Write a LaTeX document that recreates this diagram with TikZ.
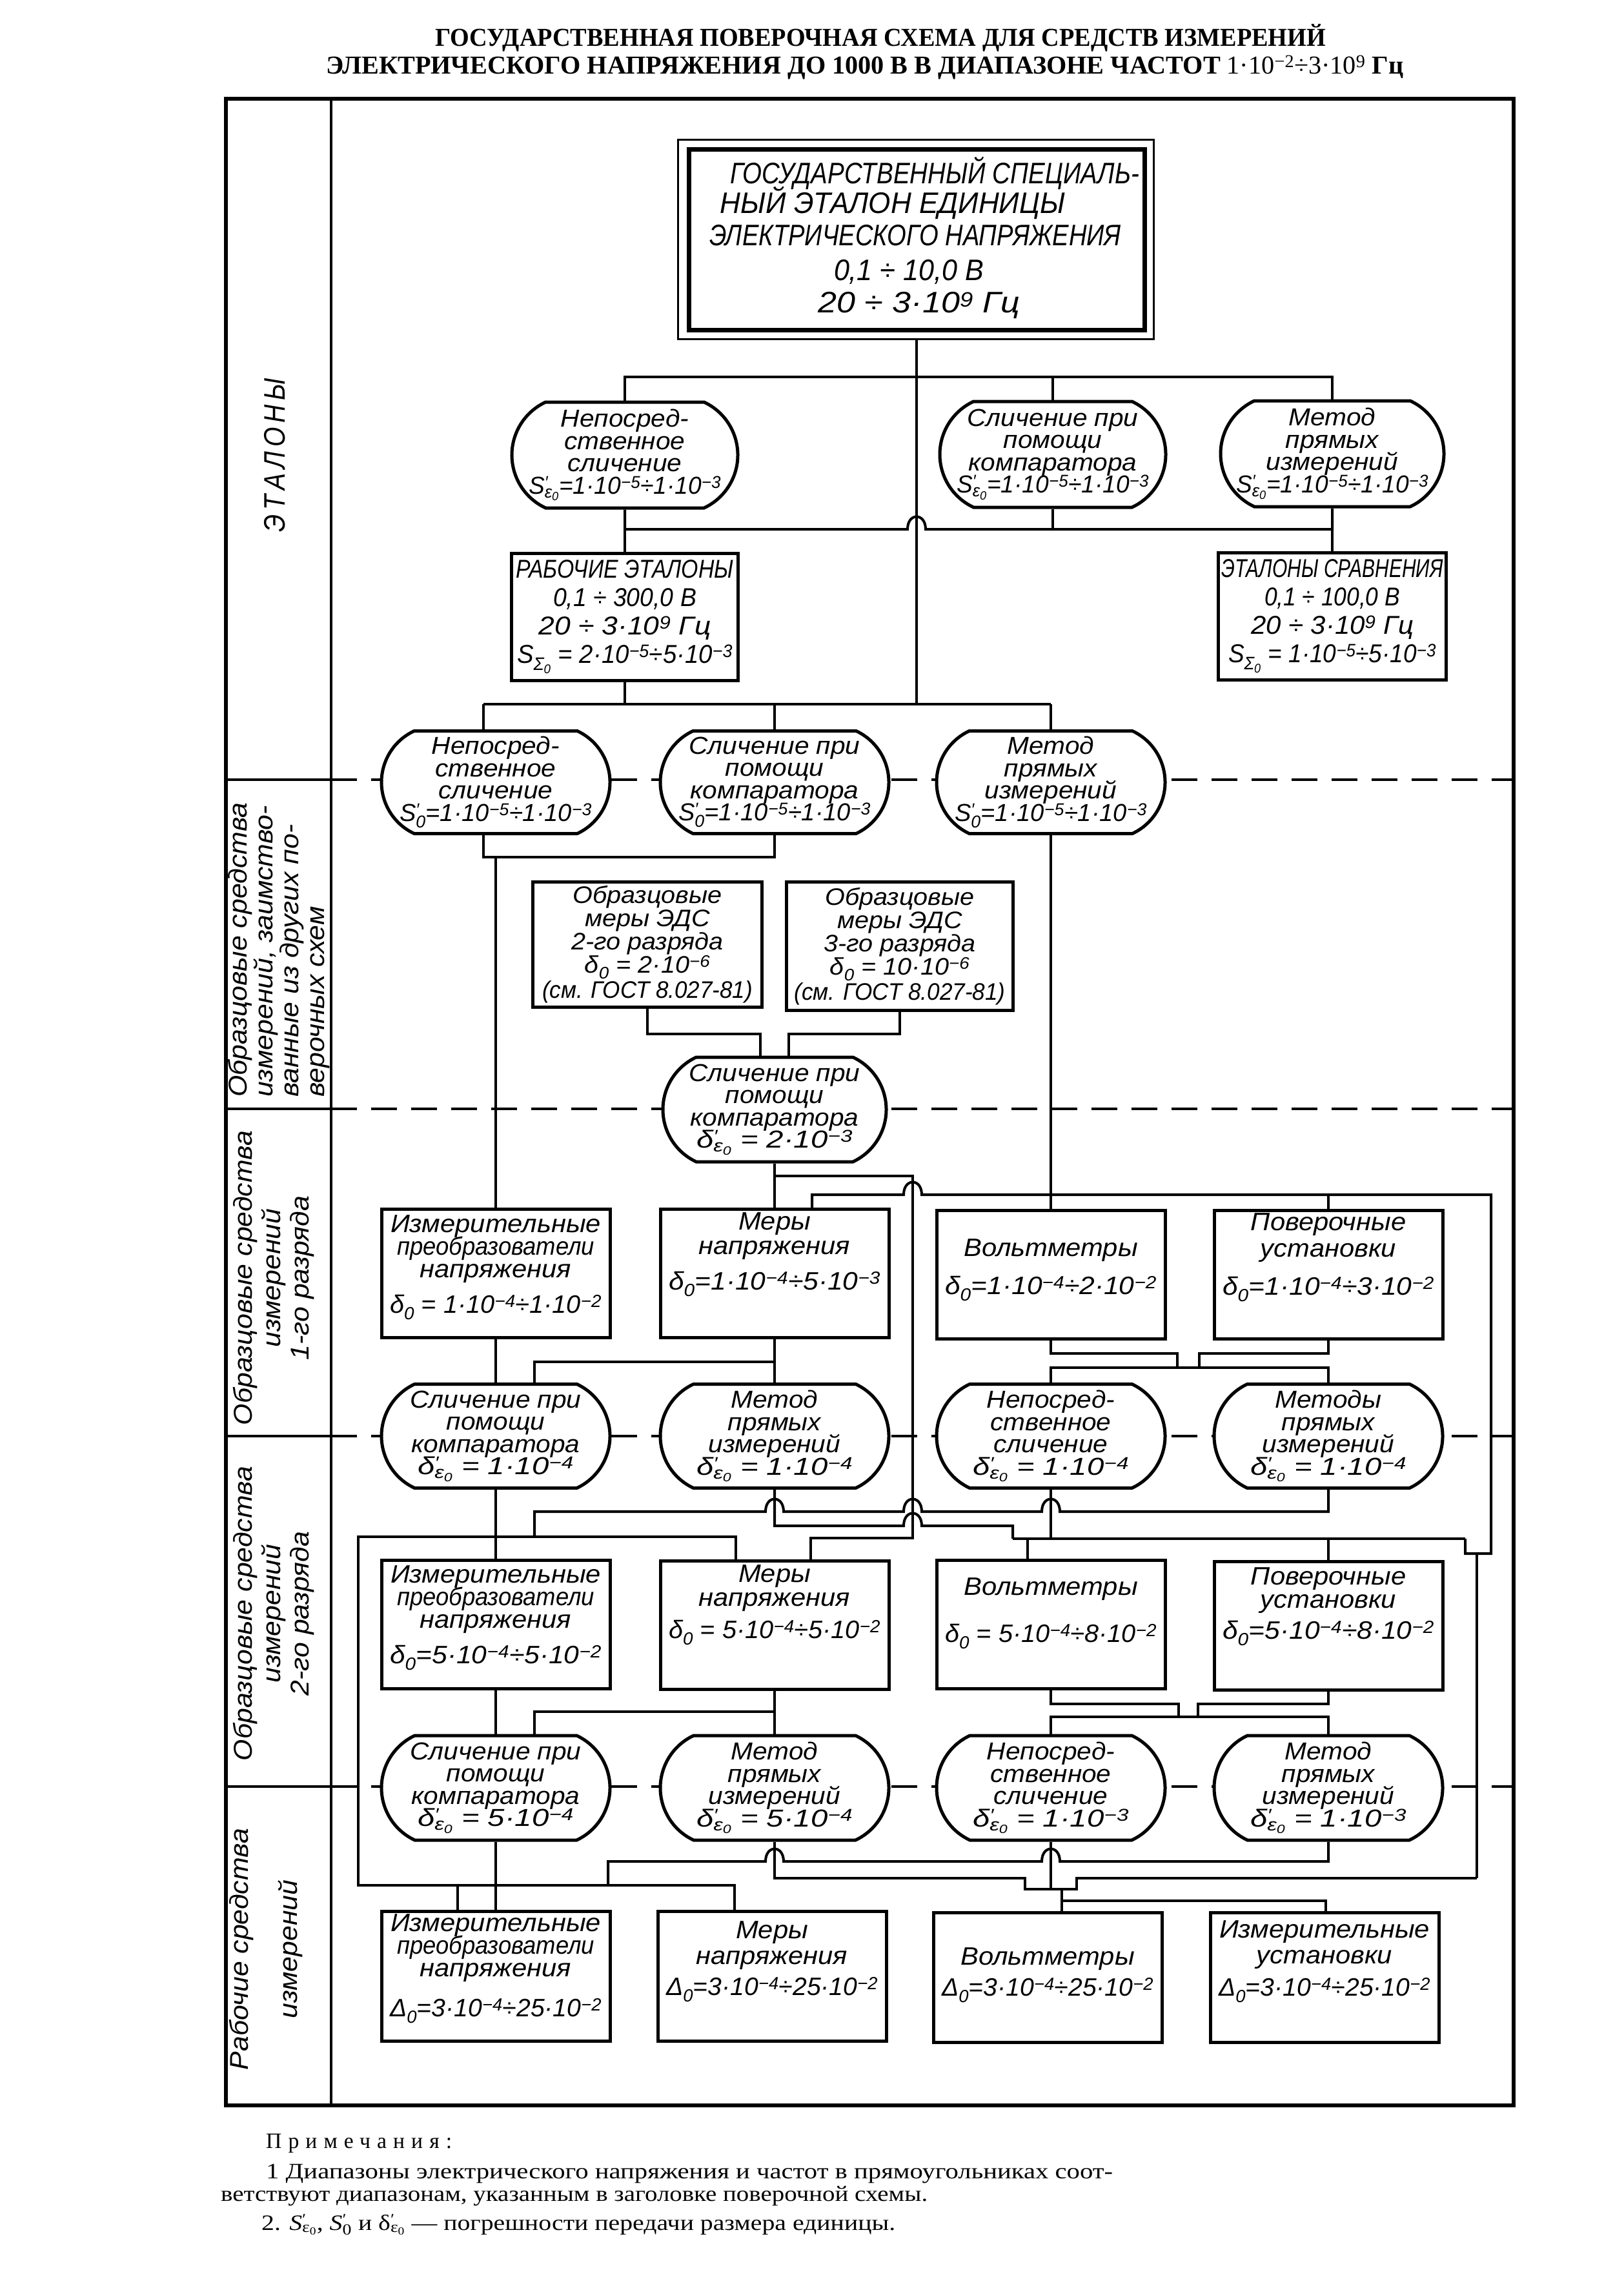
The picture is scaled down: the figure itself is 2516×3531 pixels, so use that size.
\documentclass[tikz,border=0pt]{standalone}
\usepackage{fontspec}
\usepackage{graphicx}
\setmainfont{Liberation Sans}
\newfontfamily\gost{Liberation Sans}[FakeStretch=1.07]
\newfontfamily\gostcap{Liberation Sans}[FakeStretch=0.85]
\newfontfamily\titlef{Liberation Serif}[FakeStretch=0.85]
\newfontfamily\notef{Liberation Serif}
\usetikzlibrary{shapes.misc,calc}
\lineskiplimit=-100pt
\newsavebox\fitbox
\newcommand\fitw[2]{\sbox\fitbox{#2}\pgfmathsetmacro\fitfac{#1/\the\wd\fitbox}\scalebox{\fitfac}[1]{\usebox\fitbox}}
\newcommand\mysp[1]{\textsuperscript{#1}}
\newcommand\mysb[1]{\textsubscript{#1}}
\newcommand\tp[1]{10\mysp{−#1}}
\newcommand\pr[2]{#1\rlap{\mysp{′}}\mysb{#2}}
\newcommand\ez{ε\mysb{0}}
\newcommand\fml[1]{\fitw{328}{#1}}
\newcommand\dfml[1]{\fitw{242}{#1}}
\newcommand\sfml[1]{\fitw{298}{#1}}
\newcommand\preo{\fitw{306}{преобразователи}}
\begin{document}
\begin{tikzpicture}[x=1pt,y=-1pt,
  wire/.style={line width=4},
  frame/.style={line width=6},
  dashline/.style={line width=4.5, dash pattern=on 40 off 22},
  barrel/.style={rounded rectangle, rounded rectangle arc length=130, draw, line width=5, fill=white, minimum width=354, minimum height=162, inner sep=0},
  box/.style={rectangle, draw, line width=5, fill=white, minimum width=354, minimum height=199, inner sep=0},
  btxt/.style={inner sep=0, align=center, font=\gost\itshape\fontsize{38}{34.5}\selectfont},
  xtxt/.style={inner sep=0, align=center, font=\gost\itshape\fontsize{39}{35}\selectfont, anchor=north},
  gtxt/.style={inner sep=0, align=center, font=\gost\itshape\fontsize{37}{36}\selectfont},
  captxt/.style={inner sep=0, align=center, font=\gostcap\itshape\fontsize{46}{46}\selectfont},
  captxtb/.style={inner sep=0, align=center, font=\gostcap\itshape\fontsize{40}{44}\selectfont},
  lbl/.style={inner sep=0, font=\gost\itshape\fontsize{40}{44}\selectfont},
  notes/.style={inner sep=0, anchor=base west, font=\notef\fontsize{34}{40}\selectfont},
  hop/.style 2 args={insert path={-- ({#1-14},{#2}) .. controls ({#1-14},{#2-26}) and ({#1+14},{#2-26}) .. ({#1+14},{#2})}}
]
\fill[white] (0,0) rectangle (2516,3531);
\useasboundingbox (0,0) rectangle (2516,3531);

% title
\node[inner sep=0, anchor=base, font=\titlef\bfseries\fontsize{40}{40}\selectfont] (TT1) at (1364,71) {\fitw{1380}{ГОСУДАРСТВЕННАЯ ПОВЕРОЧНАЯ СХЕМА ДЛЯ СРЕДСТВ ИЗМЕРЕНИЙ}};
\node[inner sep=0, anchor=base, font=\titlef\bfseries\fontsize{40}{40}\selectfont] (TT2) at (1340,114) {\fitw{1669}{ЭЛЕКТРИЧЕСКОГО НАПРЯЖЕНИЯ ДО 1000 В В ДИАПАЗОНЕ ЧАСТОТ {\mdseries 1·10\mysp{−2}÷3·10\mysp{9}} Гц}};

% frame
\draw[frame] (350,153) rectangle (2345,3262);
\draw[line width=4] (513,153) -- (513,3262);
\foreach \yy in {1208,1718,2225,2768}{
  \draw[line width=4] (350,\yy) -- (513,\yy);
  \draw[dashline] (513,\yy) -- (2345,\yy);
}

% labels
\node[lbl, rotate=90, font=\gostcap\itshape\fontsize{46}{46}\selectfont] (LB1) at (426,705) {Э\hspace{7pt}Т\hspace{7pt}А\hspace{7pt}Л\hspace{7pt}О\hspace{7pt}Н\hspace{7pt}Ы};
\node[lbl, rotate=90, align=left, anchor=north west, font=\gost\itshape\fontsize{40}{40}\selectfont] (LB2) at (353,1700) {Образцовые средства\\измерений, заимство-\\ванные из других по-\\верочных схем};
\node[lbl, rotate=90, align=center] (LB3) at (424,1980) {Образцовые средства\\измерений\\1-го разряда};
\node[lbl, rotate=90, align=center] (LB4) at (424,2500) {Образцовые средства\\измерений\\2-го разряда};
\node[lbl, rotate=90, align=center, font=\gost\itshape\fontsize{40}{76}\selectfont] (LB5) at (412,3020) {Рабочие средства\\измерений};

% top box
\node[draw, line width=7, minimum width=706, minimum height=280, inner sep=0, fill=white] (TOP) at (1420,371) {};
\draw[line width=3] ($(TOP.north west)+(-13,-11)$) rectangle ($(TOP.south east)+(11,11)$);
\node[captxt] (T1) at (1448,268) {\fitw{634}{ГОСУДАРСТВЕННЫЙ СПЕЦИАЛЬ-}};
\node[captxt] (T2) at (1383,314) {\fitw{535}{НЫЙ ЭТАЛОН ЕДИНИЦЫ}};
\node[captxt] (T3) at (1418,365) {\fitw{638}{ЭЛЕКТРИЧЕСКОГО НАПРЯЖЕНИЯ}};
\node[captxt] (T4) at (1408,421) {\fitw{232}{0,1 ÷ 10,0 В}};
\node[captxt] (T5) at (1424,473) {\fitw{313}{20 ÷ 3·10\mysp{9} Гц}};

% row E
\node[barrel, minimum width=350, minimum height=164] (E1) at (968,705) {};
\node[btxt] (E1t) at (E1) {Непосред-\\ственное\\сличение\\\sfml{\pr{S}{\ez}=1·\tp{5}÷1·\tp{3}}};
\node[barrel, minimum width=350, minimum height=164] (E2) at (1631,704) {};
\node[btxt] (E2t) at (E2) {Сличение при\\помощи\\компаратора\\\sfml{\pr{S}{\ez}=1·\tp{5}÷1·\tp{3}}};
\node[barrel, minimum width=346, minimum height=164] (E3) at (2064,703) {};
\node[btxt] (E3t) at (E3) {Метод\\прямых\\измерений\\\sfml{\pr{S}{\ez}=1·\tp{5}÷1·\tp{3}}};

% РЭ / ЭС
\node[box, minimum width=351, minimum height=197] (RE) at (968,956) {};
\node[captxtb] (REt) at (RE) {\fitw{337}{РАБОЧИЕ ЭТАЛОНЫ}\\\fitw{222}{0,1 ÷ 300,0 В}\\\fitw{267}{20 ÷ 3·10\mysp{9} Гц}\\\fitw{334}{S\mysb{Σ\mysb{0}} = 2·\tp{5}÷5·\tp{3}}};
\node[box, minimum width=353, minimum height=197] (ES) at (2064,955) {};
\node[captxtb] (ESt) at (ES) {\fitw{343}{ЭТАЛОНЫ СРАВНЕНИЯ}\\\fitw{210}{0,1 ÷ 100,0 В}\\\fitw{252}{20 ÷ 3·10\mysp{9} Гц}\\\fitw{322}{S\mysb{Σ\mysb{0}} = 1·\tp{5}÷5·\tp{3}}};

% row F
\node[barrel, minimum height=159] (F1) at (768,1212) {};
\node[btxt] (F1t) at (F1) {Непосред-\\ственное\\сличение\\\sfml{\pr{S}{0}=1·\tp{5}÷1·\tp{3}}};
\node[barrel, minimum height=159] (F2) at (1200,1212) {};
\node[btxt] (F2t) at (F2) {Сличение при\\помощи\\компаратора\\\sfml{\pr{S}{0}=1·\tp{5}÷1·\tp{3}}};
\node[barrel, minimum height=159] (F3) at (1628,1212) {};
\node[btxt] (F3t) at (F3) {Метод\\прямых\\измерений\\\sfml{\pr{S}{0}=1·\tp{5}÷1·\tp{3}}};

% row G
\node[box, minimum width=355, minimum height=194] (G1) at (1003,1463) {};
\node[gtxt] (G1t) at (G1) {Образцовые\\меры ЭДС\\2-го разряда\\δ\mysb{0} = 2·\tp{6}\\[3pt]\fitw{326}{(см. ГОСТ 8.027-81)}};
\node[box, minimum width=351, minimum height=199] (G2) at (1394,1466) {};
\node[gtxt] (G2t) at (G2) {Образцовые\\меры ЭДС\\3-го разряда\\δ\mysb{0} = 10·\tp{6}\\[3pt]\fitw{327}{(см. ГОСТ 8.027-81)}};

% H
\node[barrel, minimum width=346] (H) at (1200,1719) {};
\node[btxt] (Ht) at (H) {Сличение при\\помощи\\компаратора\\\dfml{\pr{δ}{\ez} = 2·\tp{3}}};

% row B
\node[box] (B1) at (768,1973) {};
\node[xtxt] (B1t) at ($(B1.north)+(0,11)$) {Измерительные\\\preo\\напряжения\\[20pt]\fml{δ\mysb{0} = 1·\tp{4}÷1·\tp{2}}};
\node[box] (B2) at (1200,1973) {};
\node[xtxt] (B2t) at ($(B2.north)+(0,7)$) {Меры\\[3pt]напряжения\\[20pt]\fml{δ\mysb{0}=1·\tp{4}÷5·\tp{3}}};
\node[box] (B3) at (1628,1975) {};
\node[xtxt] (B3t) at ($(B3.north)+(0,46)$) {Вольтметры\\[24pt]\fml{δ\mysb{0}=1·\tp{4}÷2·\tp{2}}};
\node[box] (B4) at (2058,1975) {};
\node[xtxt] (B4t) at ($(B4.north)+(0,6)$) {Поверочные\\[6pt]установки\\[24pt]\fml{δ\mysb{0}=1·\tp{4}÷3·\tp{2}}};

% row K
\node[barrel, minimum height=161] (K1) at (768,2225) {};
\node[btxt] (K1t) at (K1) {Сличение при\\помощи\\компаратора\\\dfml{\pr{δ}{\ez} = 1·\tp{4}}};
\node[barrel, minimum height=161] (K2) at (1200,2225) {};
\node[btxt] (K2t) at (K2) {Метод\\прямых\\измерений\\\dfml{\pr{δ}{\ez} = 1·\tp{4}}};
\node[barrel, minimum height=161] (K3) at (1628,2225) {};
\node[btxt] (K3t) at (K3) {Непосред-\\ственное\\сличение\\\dfml{\pr{δ}{\ez} = 1·\tp{4}}};
\node[barrel, minimum height=161] (K4) at (2058,2225) {};
\node[btxt] (K4t) at (K4) {Методы\\прямых\\измерений\\\dfml{\pr{δ}{\ez} = 1·\tp{4}}};

% row C
\node[box] (C1) at (768,2517) {};
\node[xtxt] (C1t) at ($(C1.north)+(0,10)$) {Измерительные\\\preo\\напряжения\\[20pt]\fml{δ\mysb{0}=5·\tp{4}÷5·\tp{2}}};
\node[box] (C2) at (1200,2518) {};
\node[xtxt] (C2t) at ($(C2.north)+(0,8)$) {Меры\\[2pt]напряжения\\[15pt]\fml{δ\mysb{0} = 5·\tp{4}÷5·\tp{2}}};
\node[box] (C3) at (1628,2517) {};
\node[xtxt] (C3t) at ($(C3.north)+(0,29)$) {Вольтметры\\[38pt]\fml{δ\mysb{0} = 5·\tp{4}÷8·\tp{2}}};
\node[box] (C4) at (2058,2519) {};
\node[xtxt] (C4t) at ($(C4.north)+(0,11)$) {Поверочные\\[1pt]установки\\[13pt]\fml{δ\mysb{0}=5·\tp{4}÷8·\tp{2}}};

% row L
\node[barrel] (L1) at (768,2770) {};
\node[btxt] (L1t) at (L1) {Сличение при\\помощи\\компаратора\\\dfml{\pr{δ}{\ez} = 5·\tp{4}}};
\node[barrel] (L2) at (1200,2770) {};
\node[btxt] (L2t) at (L2) {Метод\\прямых\\измерений\\\dfml{\pr{δ}{\ez} = 5·\tp{4}}};
\node[barrel] (L3) at (1628,2770) {};
\node[btxt] (L3t) at (L3) {Непосред-\\ственное\\сличение\\\dfml{\pr{δ}{\ez} = 1·\tp{3}}};
\node[barrel] (L4) at (2058,2770) {};
\node[btxt] (L4t) at (L4) {Метод\\прямых\\измерений\\\dfml{\pr{δ}{\ez} = 1·\tp{3}}};

% row D
\node[box, minimum height=201] (D1) at (768,3062) {};
\node[xtxt] (D1t) at ($(D1.north)+(0,6)$) {Измерительные\\\preo\\напряжения\\[27pt]\fml{Δ\mysb{0}=3·\tp{4}÷25·\tp{2}}};
\node[box, minimum height=201] (D2) at (1196,3062) {};
\node[xtxt] (D2t) at ($(D2.north)+(0,17)$) {Меры\\[5pt]напряжения\\[13pt]\fml{Δ\mysb{0}=3·\tp{4}÷25·\tp{2}}};
\node[box, minimum height=201] (D3) at (1623,3064) {};
\node[xtxt] (D3t) at ($(D3.north)+(0,56)$) {Вольтметры\\[13pt]\fml{Δ\mysb{0}=3·\tp{4}÷25·\tp{2}}};
\node[box, minimum height=201] (D4) at (2052,3064) {};
\node[xtxt] (D4t) at ($(D4.north)+(0,14)$) {Измерительные\\[5pt]установки\\[15pt]\fml{Δ\mysb{0}=3·\tp{4}÷25·\tp{2}}};

% ---------- wiring ----------
\draw[wire] ($(TOP.south)+(0,11)$) -- (1420,1091);
\draw[wire] (E1.north) -- (968,584) -- (2064,584) -- (E3.north);
\draw[wire] (1631,584) -- (E2.north);
\draw[wire] (E1.south) -- (968,820) [hop={1420}{820}] -- (2064,820) -- (E3.south);
\draw[wire] (E2.south) -- (1631,820);
\draw[wire] (968,820) -- (RE.north);
\draw[wire] (2064,820) -- (ES.north);
\draw[wire] (RE.south) -- (968,1091);
\draw[wire] (749,1091) -- (1628,1091);
\draw[wire] (749,1091) -- (F1.north -| 749,0);
\draw[wire] (1200,1091) -- (F2.north);
\draw[wire] (1628,1091) -- (F3.north);
\draw[wire] (F1.south -| 749,0) -- (749,1328) -- (1200,1328) -- (F2.south);
\draw[wire] (768,1328) -- (B1.north);
\draw[wire] (F3.south) -- (B3.north);
\draw[wire] (G1.south) -- (1003,1602) -- (1178,1602) -- (H.north -| 1178,0);
\draw[wire] (G2.south) -- (1394,1602) -- (1222,1602) -- (H.north -| 1222,0);
\draw[wire] (H.south) -- (B2.north);
\draw[wire] (1200,1822) -- (1414,1822) -- (1414,2383) -- (1256,2383) -- (C2.north -| 1256,0);
\draw[wire] (B2.north -| 1258,0) -- (1258,1851) [hop={1414}{1851}] -- (2310,1851) -- (2310,2407) -- (2270,2407) -- (2270,2384);
\draw[wire] (2058,1851) -- (B4.north);
\draw[wire] (2288,2407) -- (2288,2910);
\draw[wire] (B1.south) -- (K1.north);
\draw[wire] (B2.south) -- (K2.north);
\draw[wire] (K1.north -| 828,0) -- (828,2110) -- (1200,2110);
\draw[wire] (B3.south) -- (1628,2097) -- (1824,2097) -- (1824,2119);
\draw[wire] (B4.south) -- (2058,2097) -- (1858,2097) -- (1858,2119);
\draw[wire] (K3.north) -- (1628,2119) -- (2058,2119) -- (K4.north);
\draw[wire] (K1.south) -- (C1.north);
\draw[wire] (828,2381) -- (828,2342) [hop={1200}{2342}] [hop={1414}{2342}] [hop={1628}{2342}] -- (2058,2342) -- (K4.south);
\draw[wire] (K2.south) -- (1200,2364) [hop={1414}{2364}] -- (1569,2364) -- (1569,2384);
\draw[wire] (K3.south) -- (1628,2384);
\draw[wire] (C2.north -| 1140,0) -- (1140,2381) -- (555,2381) -- (555,2921) -- (1138,2921) -- (D2.north -| 1138,0);
\draw[wire] (1569,2384) -- (2270,2384);
\draw[wire] (1592,2384) -- (C3.north -| 1592,0);
\draw[wire] (2058,2384) -- (C4.north);
\draw[wire] (C1.south) -- (L1.north);
\draw[wire] (C2.south) -- (L2.north);
\draw[wire] (L1.north -| 828,0) -- (828,2652) -- (1200,2652);
\draw[wire] (C3.south) -- (1628,2640) -- (1826,2640) -- (1826,2660);
\draw[wire] (C4.south) -- (2058,2640) -- (1856,2640) -- (1856,2660);
\draw[wire] (L3.north) -- (1628,2660) -- (2058,2660) -- (L4.north);
\draw[wire] (L1.south) -- (D1.north);
\draw[wire] (942,2921) -- (942,2884) [hop={1200}{2884}] [hop={1628}{2884}] -- (2058,2884) -- (L4.south);
\draw[wire] (L2.south) -- (1200,2910) -- (1588,2910) -- (1588,2927) -- (1668,2927) -- (1668,2910) -- (2288,2910);
\draw[wire] (L3.south) -- (1628,2927);
\draw[wire] (1645,2927) -- (D3.north -| 1645,0);
\draw[wire] (1645,2945) -- (2054,2945) -- (D4.north -| 2054,0);
\draw[wire] (709,2921) -- (D1.north -| 709,0);

% notes
\node[notes] (N0) at (412,3328) {\fitw{288}{\addfontfeature{LetterSpace=30}Примечания:}};
\node[notes] (N1) at (412,3375) {\fitw{1312}{1 Диапазоны электрического напряжения и частот в прямоугольниках соот-}};
\node[notes] (N2) at (342,3410) {\fitw{1095}{ветствуют диапазонам, указанным в заголовке поверочной схемы.}};
\node[notes] (N3) at (405,3455) {\fitw{982}{2. \pr{\textit{S}}{\ez}, \pr{\textit{S}}{0} и \pr{δ}{\ez} — погрешности передачи размера единицы.}};
\end{tikzpicture}
\end{document}
